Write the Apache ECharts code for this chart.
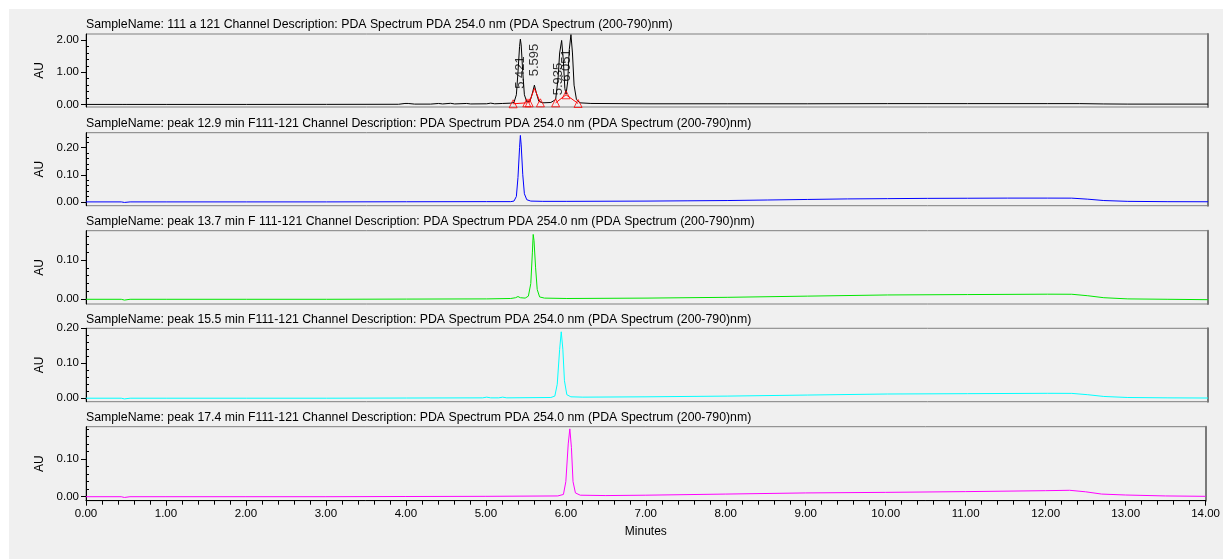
<!DOCTYPE html>
<html>
<head>
<meta charset="utf-8">
<script src="https://cdn.jsdelivr.net/npm/echarts@6/dist/echarts.min.js"></script>
<style>
body{margin:0;background:#fff;}
#bg{position:absolute;left:9px;top:9px;width:1214px;height:550px;background:#f0f0f0;}
#main{position:absolute;left:0;top:0;width:1223px;height:559px;}
</style>
</head>
<body>
<div id="bg"></div>
<div id="main"></div>
<script>
// titres des 5 panneaux
var titles = [
  'SampleName: 111 a 121 Channel Description: PDA Spectrum PDA 254.0 nm (PDA Spectrum (200-790)nm)',
  'SampleName: peak 12.9 min F111-121 Channel Description: PDA Spectrum PDA 254.0 nm (PDA Spectrum (200-790)nm)',
  'SampleName: peak 13.7 min F 111-121 Channel Description: PDA Spectrum PDA 254.0 nm (PDA Spectrum (200-790)nm)',
  'SampleName: peak 15.5 min F111-121 Channel Description: PDA Spectrum PDA 254.0 nm (PDA Spectrum (200-790)nm)',
  'SampleName: peak 17.4 min F111-121 Channel Description: PDA Spectrum PDA 254.0 nm (PDA Spectrum (200-790)nm)'
];
var colors = ['#000000', '#0000ff', '#00e600', '#00ffff', '#ff00ff'];

// traces [minutes, AU]
var trace1 = [[0,0],[0.45,0],[0.47,0.01],[0.5,0],[1,0],[2,0],[3,0.002],[3.9,0.005],[3.98,0.03],[4.02,0.03],[4.1,0.01],[4.3,0.01],[4.4,0.03],[4.45,0.015],[4.55,0.035],[4.6,0.015],[4.75,0.03],[4.8,0.015],[5.0,0.02],[5.05,0.04],[5.1,0.02],[5.2,0.03],[5.3,0.04],[5.34,0.06],[5.37,0.3],[5.39,1.0],[5.41,1.8],[5.42,2.03],[5.43,1.85],[5.45,1.0],[5.47,0.3],[5.5,0.08],[5.54,0.1],[5.57,0.35],[5.595,0.6],[5.62,0.35],[5.65,0.1],[5.7,0.05],[5.8,0.06],[5.86,0.15],[5.89,0.8],[5.91,1.6],[5.935,1.99],[5.955,1.4],[5.975,0.5],[5.99,0.32],[6.01,0.7],[6.03,1.7],[6.051,2.17],[6.07,1.6],[6.09,0.6],[6.12,0.15],[6.16,0.05],[6.3,0.03],[7,0.02],[8,0.02],[9,0.02],[10,0.025],[11,0.025],[12,0.025],[12.4,0.025],[12.7,0.015],[13,0.01],[14,0.01]];
var trace2 = [[0,0],[0.44,0],[0.46,0.003],[0.48,-0.002],[0.5,0.001],[0.55,0],[1,0],[2,0],[3,0],[4,0.0005],[5,0.001],[5.3,0.001],[5.34,0.003],[5.37,0.02],[5.39,0.09],[5.41,0.2],[5.42,0.245],[5.43,0.21],[5.45,0.1],[5.47,0.03],[5.5,0.008],[5.55,0.003],[5.7,0.002],[6,0.002],[7,0.003],[7.5,0.004],[8,0.005],[8.5,0.007],[9,0.009],[9.5,0.011],[10,0.012],[10.5,0.013],[11,0.0135],[11.5,0.014],[12,0.014],[12.3,0.0138],[12.5,0.01],[12.7,0.005],[13,0.002],[13.5,0.0008],[14,0.0005]];
var trace3 = [[0,0],[0.44,0],[0.46,0.003],[0.48,-0.002],[0.5,0.001],[0.55,0],[1,0],[2,0],[3,0],[4,0.0005],[5,0.001],[5.3,0.002],[5.36,0.004],[5.39,0.007],[5.42,0.004],[5.48,0.003],[5.52,0.008],[5.55,0.04],[5.57,0.12],[5.58,0.165],[5.59,0.15],[5.61,0.08],[5.63,0.025],[5.66,0.006],[5.72,0.003],[6,0.002],[7,0.003],[8,0.005],[9,0.008],[10,0.011],[11,0.012],[12,0.013],[12.3,0.0128],[12.5,0.009],[12.7,0.004],[13,0.001],[13.5,0],[14,-0.001]];
var trace4 = [[0,0],[0.44,0],[0.46,0.003],[0.48,-0.002],[0.5,0.001],[0.55,0],[1,0],[2,0],[3,0],[4,0.0005],[4.95,0.001],[5.0,0.003],[5.05,0.001],[5.15,0.001],[5.2,0.003],[5.25,0.001],[5.8,0.002],[5.85,0.006],[5.88,0.04],[5.91,0.14],[5.93,0.19],[5.95,0.14],[5.97,0.05],[6.0,0.01],[6.05,0.004],[6.2,0.003],[7,0.004],[8,0.006],[9,0.009],[10,0.012],[11,0.013],[12,0.014],[12.3,0.0138],[12.5,0.01],[12.7,0.005],[13,0.002],[13.5,0.001],[14,0.0005]];
var trace5 = [[0,0],[0.44,0],[0.46,0.003],[0.48,-0.002],[0.5,0.001],[0.55,0],[1,0],[2,0],[3,0],[4,0.0005],[5,0.001],[5.9,0.002],[5.97,0.006],[6.0,0.04],[6.03,0.14],[6.05,0.18],[6.07,0.13],[6.09,0.04],[6.12,0.01],[6.18,0.004],[6.5,0.003],[7,0.004],[8,0.007],[9,0.01],[10,0.0115],[11,0.0135],[12,0.016],[12.3,0.017],[12.5,0.013],[12.7,0.007],[13,0.0045],[13.5,0.002],[14,0.001]];
var traces = [trace1, trace2, trace3, trace4, trace5];

// pics integres du premier panneau
var peakNames = ['5.421', '5.595', '5.935', '6.051'];
var peakLabelPos = [[5.415, 0.99], [5.60, 1.38], [5.90, 0.79], [6.00, 1.21]];
var peakMarks = [[5.33,0.02],[5.50,0.05],[5.53,0.05],[5.67,0.05],[5.86,0.05],[5.99,0.3],[6.14,0.03]];
var baseLines = [[5.33,0.02],[5.50,0.05],'-',[5.53,0.05],[5.595,0.5],[5.67,0.05],'-',[5.86,0.05],[5.99,0.3],[6.14,0.03]];

// axes Y
var yRanges = [[-0.08, 2.19], [-0.014, 0.255], [-0.012, 0.1745], [-0.01, 0.2], [-0.0106, 0.1857]];
var yMajor = [[0, 1, 2], [0, 0.1, 0.2], [0, 0.1], [0, 0.1, 0.2], [0, 0.1]];
var yMinor = [
  [0.2,0.4,0.6,0.8,1.2,1.4,1.6,1.8],
  [0.02,0.04,0.06,0.08,0.12,0.14,0.16,0.18,0.22,0.24],
  [0.02,0.04,0.06,0.08,0.12,0.14,0.16],
  [0.02,0.04,0.06,0.08,0.12,0.14,0.16,0.18],
  [0.02,0.04,0.06,0.08,0.12,0.14,0.16,0.18]
];
var gridTops = [34, 132.7, 230.7, 328.3, 426.7];
var gridBottoms = [107, 205.7, 304, 401.7, 500.7];

var font = 'Liberation Sans, Arial, sans-serif';
var grid = [], xAxis = [], yAxis = [], title = [], series = [];
for (var i = 0; i < 5; i++) {
  grid.push({left: 86, right: 15, top: gridTops[i], height: gridBottoms[i] - gridTops[i],
    show: true, borderColor: '#7f7f7f', borderWidth: 1, backgroundColor: 'transparent'});
  title.push({text: titles[i], left: 86, top: gridTops[i] - 15, padding: 0,
    textStyle: {fontSize: 12.3, fontWeight: 'normal', color: '#000', fontFamily: font}});
  var last = (i == 4);
  xAxis.push({type: 'value', gridIndex: i, min: 0, max: 14, interval: 1,
    axisLine: {show: last, onZero: false, lineStyle: {color: '#000', width: 1}},
    axisTick: {show: last, length: 5, lineStyle: {color: '#000'}},
    minorTick: {show: last, splitNumber: 5, length: 4, lineStyle: {color: '#000'}},
    axisLabel: {show: last, margin: 7, color: '#000', fontSize: 11.5, fontFamily: font,
      formatter: function (v) { return v.toFixed(2); }},
    splitLine: {show: false},
    name: last ? 'Minutes' : '', nameLocation: 'middle', nameGap: 25,
    nameTextStyle: {color: '#000', fontSize: 12, fontFamily: font}});
  yAxis.push({type: 'value', gridIndex: i, min: yRanges[i][0], max: yRanges[i][1],
    axisLine: {show: true, onZero: false, lineStyle: {color: '#000'}},
    axisTick: {show: true, length: 5, customValues: yMajor[i], lineStyle: {color: '#000'}},
    axisLabel: {show: true, margin: 7, customValues: yMajor[i], color: '#000', fontSize: 11.5, fontFamily: font,
      formatter: function (v) { return v.toFixed(2); }},
    splitLine: {show: false},
    name: 'AU', nameLocation: 'middle', nameGap: 37,
    nameTextStyle: {color: '#000', fontSize: 12, fontFamily: font}});
  yAxis.push({type: 'value', gridIndex: i, min: yRanges[i][0], max: yRanges[i][1],
    axisLine: {show: false},
    axisTick: {show: true, length: 3, customValues: yMinor[i], lineStyle: {color: '#000'}},
    axisLabel: {show: false},
    splitLine: {show: false}});
  // bord droit plus epais
  yAxis.push({type: 'value', gridIndex: i, position: 'right', min: yRanges[i][0], max: yRanges[i][1],
    axisLine: {show: true, onZero: false, lineStyle: {color: '#7a7a7a', width: 2}},
    axisTick: {show: false}, axisLabel: {show: false}, splitLine: {show: false}});
  series.push({type: 'line', xAxisIndex: i, yAxisIndex: 3 * i, data: traces[i],
    showSymbol: false, symbol: 'none', lineStyle: {color: colors[i], width: 1}, z: 3});
}
series.push({type: 'line', xAxisIndex: 0, yAxisIndex: 0, data: baseLines, connectNulls: false,
  symbol: 'none', lineStyle: {color: '#ff0000', width: 1}, z: 4});
series.push({type: 'scatter', xAxisIndex: 0, yAxisIndex: 0, data: peakMarks, symbol: 'triangle',
  symbolSize: 8, itemStyle: {color: 'transparent', borderColor: '#ff0000', borderWidth: 1}, z: 4});
series.push({type: 'scatter', xAxisIndex: 0, yAxisIndex: 0, symbolSize: 0, z: 5,
  data: peakLabelPos.map(function (p, k) { return {value: p, name: peakNames[k]}; }),
  label: {show: true, position: 'inside', rotate: 90, color: '#000', fontSize: 13, fontFamily: font,
    formatter: function (p) { return p.name; }}});

var myChart = echarts.init(document.getElementById('main'));
myChart.setOption({
  animation: false,
  backgroundColor: 'transparent',
  title: title,
  grid: grid,
  xAxis: xAxis,
  yAxis: yAxis,
  series: series
});
</script>
</body>
</html>
